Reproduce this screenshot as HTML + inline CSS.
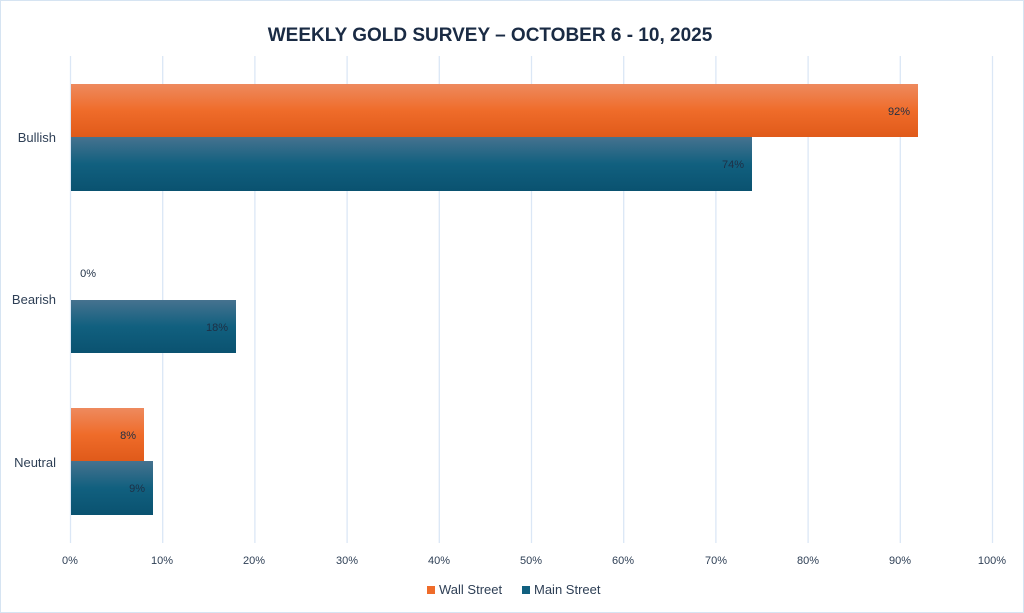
<!DOCTYPE html>
<html><head><meta charset="utf-8"><style>
html,body{margin:0;padding:0;background:#fff}
svg{display:block}
text{font-family:"Liberation Sans",sans-serif}
</style></head><body>
<svg width="1024" height="613" xmlns="http://www.w3.org/2000/svg">
<defs>
<linearGradient id="o" x1="0" y1="0" x2="0" y2="1">
<stop offset="0" stop-color="#ee8a5e"/><stop offset="0.5" stop-color="#ef6c2a"/><stop offset="1" stop-color="#e05a1a"/>
</linearGradient>
<linearGradient id="b" x1="0" y1="0" x2="0" y2="1">
<stop offset="0" stop-color="#46728f"/><stop offset="0.5" stop-color="#11607f"/><stop offset="1" stop-color="#0a5270"/>
</linearGradient>
</defs>
<rect x="0.5" y="0.5" width="1023" height="612" fill="#fff" stroke="#d6e4f2"/>
<text x="490" y="41" text-anchor="middle" font-size="19" font-weight="bold" fill="#1a2b44">WEEKLY GOLD SURVEY – OCTOBER 6 - 10, 2025</text>
<g stroke="#dbe7f6" stroke-width="1.3">
<line x1="70.5" y1="56" x2="70.5" y2="543"/><line x1="162.7" y1="56" x2="162.7" y2="543"/><line x1="254.9" y1="56" x2="254.9" y2="543"/><line x1="347.1" y1="56" x2="347.1" y2="543"/><line x1="439.3" y1="56" x2="439.3" y2="543"/><line x1="531.5" y1="56" x2="531.5" y2="543"/><line x1="623.7" y1="56" x2="623.7" y2="543"/><line x1="715.9" y1="56" x2="715.9" y2="543"/><line x1="808.1" y1="56" x2="808.1" y2="543"/><line x1="900.3" y1="56" x2="900.3" y2="543"/><line x1="992.5" y1="56" x2="992.5" y2="543"/>
</g>
<rect x="71" y="84" width="847" height="53" fill="url(#o)"/>
<rect x="71" y="137" width="681" height="54" fill="url(#b)"/>
<rect x="71" y="300" width="165" height="53" fill="url(#b)"/>
<rect x="71" y="408" width="73" height="53" fill="url(#o)"/>
<rect x="71" y="461" width="82" height="54" fill="url(#b)"/>
<g font-size="11" fill="#1f2f45" text-anchor="end">
<text x="910" y="115">92%</text><text x="744" y="168">74%</text>
<text x="96" y="277">0%</text><text x="228" y="331">18%</text>
<text x="136" y="439">8%</text><text x="145" y="492">9%</text>
</g>
<g font-size="13" fill="#2e3f55" text-anchor="end">
<text x="56" y="142">Bullish</text><text x="56" y="304">Bearish</text><text x="56" y="467">Neutral</text>
</g>
<g font-size="11" fill="#2e3f55" text-anchor="middle">
<text x="70" y="564">0%</text><text x="162" y="564">10%</text><text x="254" y="564">20%</text><text x="347" y="564">30%</text><text x="439" y="564">40%</text><text x="531" y="564">50%</text><text x="623" y="564">60%</text><text x="716" y="564">70%</text><text x="808" y="564">80%</text><text x="900" y="564">90%</text><text x="992" y="564">100%</text>
</g>
<rect x="427" y="586" width="8" height="8" fill="#ef6c2a"/>
<text x="439" y="594" font-size="13" fill="#2e3f55">Wall Street</text>
<rect x="522" y="586" width="8" height="8" fill="#11607f"/>
<text x="534" y="594" font-size="13" fill="#2e3f55">Main Street</text>
</svg>
</body></html>
